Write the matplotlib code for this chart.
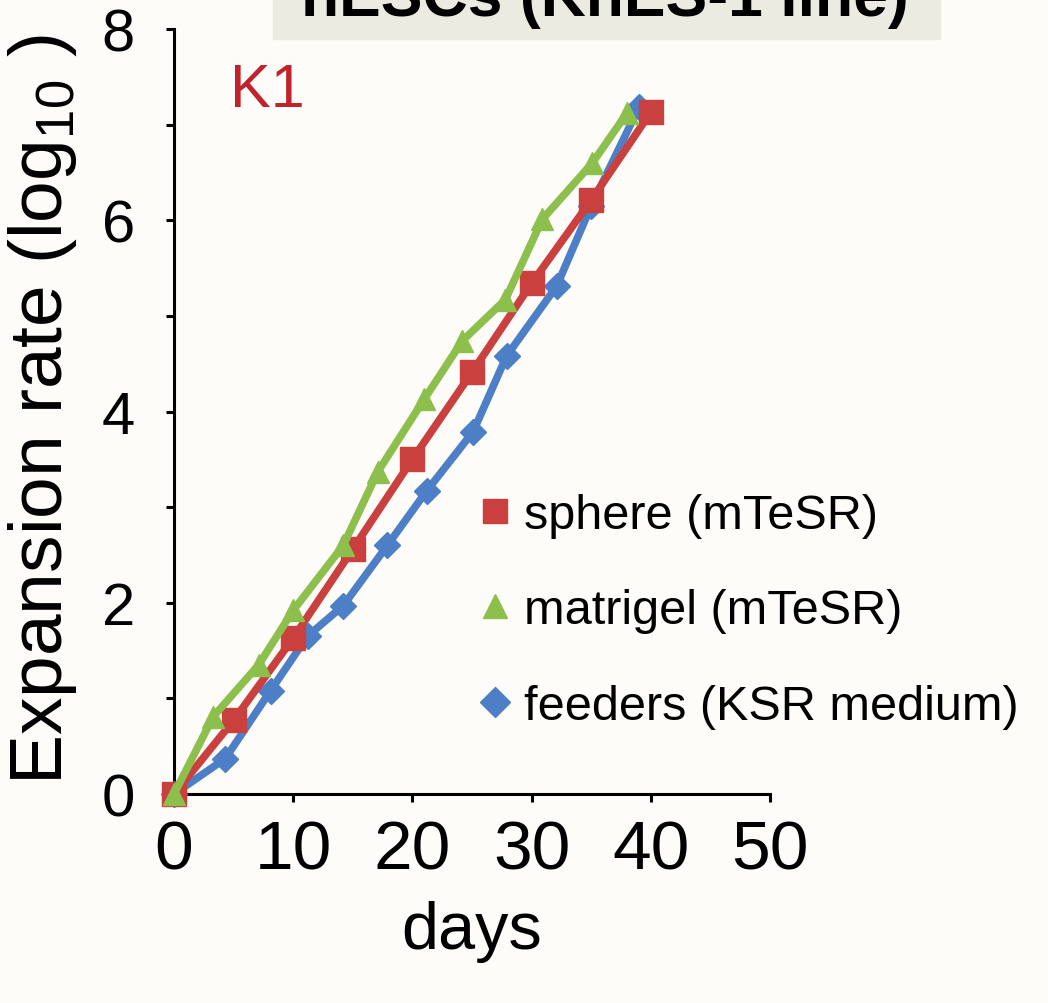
import matplotlib
matplotlib.use("Agg")
import matplotlib.pyplot as plt
from matplotlib.lines import Line2D
from matplotlib.patches import Rectangle

# values
sphere_days = [0, 5, 10, 15, 20, 25, 30, 35, 40]
sphere_rate = [0, 0.77, 1.63, 2.56, 3.50, 4.41, 5.34, 6.21, 7.13]

matrigel_days = [0, 3.3, 7.1, 10, 14.2, 17.1, 21, 24.2, 27.8, 30.9, 35.1, 38]
matrigel_rate = [0, 0.81, 1.35, 1.92, 2.60, 3.37, 4.13, 4.74, 5.17, 6.01, 6.60, 7.12]

feeders_days = [0, 4.3, 8.1, 11.2, 14.2, 17.9, 21.2, 25.1, 27.9, 32.1, 35, 39]
feeders_rate = [0, 0.37, 1.08, 1.65, 1.97, 2.60, 3.17, 3.79, 4.58, 5.31, 6.15, 7.18]

labels = ["sphere (mTeSR)", "matrigel (mTeSR)", "feeders (KSR medium)"]
x_ticks = [0, 10, 20, 30, 40, 50]
y_ticks = [0, 2, 4, 6, 8]

RED = "#c9403f"
GREEN = "#8cbf4c"
BLUE = "#4c7fc6"
BG = "#fdfcf9"
FONT = ["Liberation Sans", "DejaVu Sans"]

plt.rcParams["font.family"] = FONT
plt.rcParams["mathtext.fontset"] = "custom"
plt.rcParams["mathtext.rm"] = "Liberation Sans"

fig = plt.figure(figsize=(10.48, 10.04), dpi=100, facecolor=BG)

# title banner, cut off at the top edge
fig.add_artist(Rectangle((273 / 1048, 1 - 40 / 1004), 667 / 1048, 50 / 1004,
                         transform=fig.transFigure, color="#ecebe1", zorder=0))
fig.text(0.577, 1 - 16 / 1004, "hESCs (KhES-1 line)", ha="center", va="baseline",
         fontsize=45, fontweight="bold", zorder=1)

ax = fig.add_axes([174 / 1048, 1 - 795 / 1004, 596 / 1048, 765 / 1004], zorder=2)
ax.set_facecolor("none")

ax.plot(feeders_days, feeders_rate, color=BLUE, lw=5.5, marker="D", ms=13, clip_on=False, zorder=3)
ax.plot(sphere_days, sphere_rate, color=RED, lw=5.5, marker="s", ms=17, clip_on=False, zorder=4)
ax.plot(matrigel_days, matrigel_rate, color=GREEN, lw=5.5, marker="^", ms=16, clip_on=False, zorder=5)

ax.set_xlim(0, 50)
ax.set_ylim(0, 8)
ax.set_xticks(x_ticks)
ax.set_yticks(y_ticks)
ax.set_yticks([1, 3, 5, 7], minor=True)
for sp in ("top", "right"):
    ax.spines[sp].set_visible(False)
for sp in ("left", "bottom"):
    ax.spines[sp].set_linewidth(2.2)
ax.tick_params(axis="both", which="both", direction="out", length=6, width=2.2)
ax.tick_params(axis="x", pad=12, labelsize=50)
ax.tick_params(axis="y", pad=22, labelsize=43)

ax.set_xlabel("days", fontsize=48, labelpad=12)
fig.text(0.041, 1 - 410 / 1004, "Expansion rate (log$_{\\mathrm{10}}$ )", rotation=90,
         ha="center", va="center", fontsize=54)

ax.text(4.7, 7.19, "K1", color="#c0232b", fontsize=44, va="baseline")

handles = [
    Line2D([], [], ls="none", marker="s", ms=17, color=RED),
    Line2D([], [], ls="none", marker="^", ms=17, color=GREEN),
    Line2D([], [], ls="none", marker="D", ms=15, color=BLUE),
]
fig.legend(handles, labels, loc="center left", bbox_to_anchor=(0.458, 1 - 612 / 1004),
           frameon=False, fontsize=35, handlelength=0.6, handletextpad=0.3,
           labelspacing=1.03, borderpad=0, borderaxespad=0)

fig.savefig("out.png", dpi=100, facecolor=BG)
